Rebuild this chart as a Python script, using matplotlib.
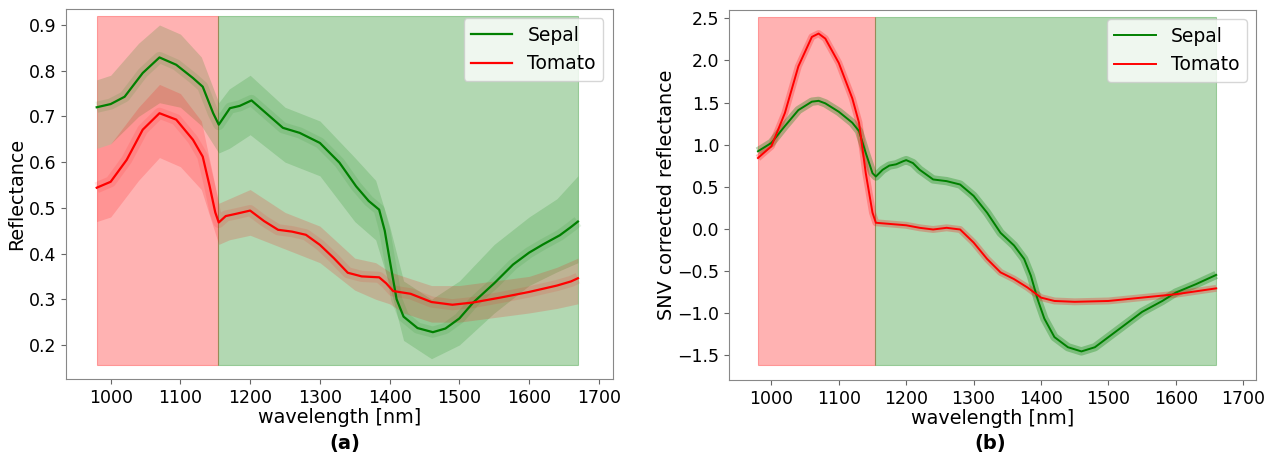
import numpy as np
import matplotlib
matplotlib.use('Agg')
import matplotlib.pyplot as plt

# panel (a): raw reflectance, mean curves
wl_sep_a = [980, 1000, 1020, 1046, 1070, 1094, 1118, 1132, 1147, 1155, 1171, 1185, 1202, 1223,
            1247, 1271, 1300, 1328, 1352, 1370, 1385, 1393, 1400, 1410, 1420, 1440, 1462, 1480,
            1500, 1520, 1550, 1577, 1600, 1620, 1644, 1660, 1670]
sep_a = [0.720, 0.727, 0.743, 0.795, 0.829, 0.813, 0.784, 0.765, 0.707, 0.682, 0.718, 0.723,
         0.735, 0.707, 0.675, 0.664, 0.642, 0.599, 0.547, 0.515, 0.496, 0.450, 0.387, 0.300,
         0.262, 0.237, 0.228, 0.236, 0.258, 0.293, 0.335, 0.376, 0.402, 0.420, 0.440, 0.458,
         0.470]
wl_tom_a = [980, 1000, 1023, 1046, 1070, 1094, 1118, 1132, 1142, 1150, 1155, 1165, 1180, 1200,
            1220, 1240, 1260, 1280, 1300, 1320, 1340, 1360, 1385, 1395, 1405, 1430, 1460, 1490,
            1520, 1560, 1600, 1640, 1660, 1670]
tom_a = [0.544, 0.557, 0.605, 0.671, 0.707, 0.693, 0.649, 0.612, 0.547, 0.490, 0.468, 0.482,
         0.487, 0.494, 0.471, 0.452, 0.448, 0.441, 0.419, 0.390, 0.358, 0.350, 0.348, 0.335,
         0.318, 0.312, 0.294, 0.288, 0.293, 0.304, 0.316, 0.330, 0.339, 0.346]

# panel (a): spread of the individual spectra
wl_env = [980, 1000, 1040, 1070, 1100, 1130, 1155, 1170, 1200, 1250, 1300, 1350, 1380, 1400,
          1420, 1460, 1500, 1550, 1600, 1640, 1670]
sep_lo = [0.63, 0.64, 0.70, 0.73, 0.72, 0.68, 0.62, 0.63, 0.66, 0.60, 0.57, 0.47, 0.43, 0.33,
          0.21, 0.17, 0.20, 0.27, 0.33, 0.36, 0.38]
sep_hi = [0.78, 0.79, 0.86, 0.90, 0.88, 0.83, 0.73, 0.76, 0.79, 0.72, 0.69, 0.61, 0.56, 0.46,
          0.34, 0.30, 0.34, 0.42, 0.48, 0.52, 0.57]
tom_lo = [0.47, 0.48, 0.56, 0.61, 0.59, 0.54, 0.42, 0.43, 0.44, 0.41, 0.38, 0.32, 0.30, 0.29,
          0.27, 0.25, 0.25, 0.26, 0.27, 0.28, 0.29]
tom_hi = [0.63, 0.64, 0.72, 0.77, 0.75, 0.69, 0.51, 0.52, 0.54, 0.49, 0.46, 0.39, 0.38, 0.36,
          0.35, 0.33, 0.33, 0.34, 0.35, 0.37, 0.39]

# panel (b): SNV corrected mean curves
wl_tom_b = [980, 1000, 1020, 1040, 1060, 1070, 1080, 1100, 1120, 1130, 1140, 1150, 1155, 1170,
            1200, 1220, 1240, 1260, 1280, 1300, 1320, 1340, 1360, 1380, 1390, 1400, 1420, 1450,
            1500, 1550, 1600, 1660]
tom_b = [0.84, 0.98, 1.375, 1.93, 2.28, 2.32, 2.26, 1.97, 1.55, 1.26, 0.66, 0.19, 0.07, 0.06,
         0.04, 0.01, -0.01, 0.01, -0.01, -0.165, -0.36, -0.52, -0.60, -0.70, -0.76, -0.82,
         -0.86, -0.87, -0.86, -0.82, -0.78, -0.71]
wl_sep_b = [980, 1000, 1020, 1040, 1060, 1070, 1080, 1100, 1120, 1130, 1140, 1150, 1155, 1165,
            1175, 1185, 1195, 1200, 1210, 1220, 1240, 1260, 1280, 1300, 1320, 1340, 1360, 1375,
            1385, 1395, 1405, 1420, 1440, 1460, 1480, 1500, 1520, 1550, 1580, 1600, 1630, 1660]
sep_b = [0.92, 1.02, 1.22, 1.41, 1.51, 1.52, 1.49, 1.39, 1.26, 1.16, 0.90, 0.66, 0.62, 0.70,
         0.75, 0.765, 0.80, 0.815, 0.78, 0.70, 0.585, 0.565, 0.525, 0.39, 0.19, -0.05, -0.20,
         -0.36, -0.56, -0.84, -1.07, -1.29, -1.41, -1.46, -1.41, -1.29, -1.17, -0.99, -0.86,
         -0.76, -0.66, -0.55]

# shaded spectral regions
split = 1154
font_tick = 12.5
font_label = 13.8

fig = plt.figure(figsize=(12.82, 4.68), dpi=100)
ax1 = fig.add_axes([0.0515, 0.1902, 0.4265, 0.7906])
ax2 = fig.add_axes([0.5686, 0.1880, 0.4111, 0.7906])


def shade(ax, x0, x1, lo, hi):
    ax.fill_between([x0, split], lo, hi, color='red', alpha=0.3, lw=0.8)
    ax.fill_between([split, x1], lo, hi, color='green', alpha=0.3, lw=0.8)


shade(ax1, 980, 1670, 0.157, 0.92)
ax1.fill_between(wl_env, sep_lo, sep_hi, color='green', alpha=0.17, lw=0)
ax1.fill_between(wl_env, tom_lo, tom_hi, color='red', alpha=0.17, lw=0)
ax1.plot(wl_sep_a, sep_a, color='green', lw=8, alpha=0.1, solid_capstyle='butt')
ax1.plot(wl_tom_a, tom_a, color='red', lw=8, alpha=0.1, solid_capstyle='butt')
ax1.plot(wl_sep_a, sep_a, color='green', lw=1.6, label='Sepal')
ax1.plot(wl_tom_a, tom_a, color='red', lw=1.6, label='Tomato')
ax1.set_xlim(936, 1720)
ax1.set_ylim(0.1256, 0.935)
ax1.set_yticks([0.2, 0.3, 0.4, 0.5, 0.6, 0.7, 0.8, 0.9])
ax1.set_ylabel('Reflectance', fontsize=font_label, labelpad=2)

shade(ax2, 980, 1660, -1.625, 2.52)
ax2.plot(wl_sep_b, sep_b, color='green', lw=6, alpha=0.3, solid_capstyle='butt')
ax2.plot(wl_tom_b, tom_b, color='red', lw=5, alpha=0.25, solid_capstyle='butt')
ax2.plot(wl_sep_b, sep_b, color='green', lw=1.4, label='Sepal')
ax2.plot(wl_tom_b, tom_b, color='red', lw=1.4, label='Tomato')
ax2.set_xlim(937, 1719)
ax2.set_ylim(-1.80, 2.60)
ax2.set_yticks([-1.5, -1.0, -0.5, 0.0, 0.5, 1.0, 1.5, 2.0, 2.5])
ax2.set_ylabel('SNV corrected reflectance', fontsize=font_label, labelpad=1)

for ax in (ax1, ax2):
    ax.set_xticks([1000, 1100, 1200, 1300, 1400, 1500, 1600, 1700])
    ax.tick_params(labelsize=font_tick, color='#666666')
    for s in ax.spines.values():
        s.set_color('#888888')
    ax.set_xlabel('wavelength [nm]', fontsize=font_label, labelpad=1)
    ax.legend(loc='upper right', fontsize=13.5, handlelength=2.2)

fig.text(0.269, 0.053, '(a)', fontsize=14, fontweight='bold', ha='center', va='center')
fig.text(0.772, 0.053, '(b)', fontsize=14, fontweight='bold', ha='center', va='center')

fig.savefig('out.png', dpi=100)
